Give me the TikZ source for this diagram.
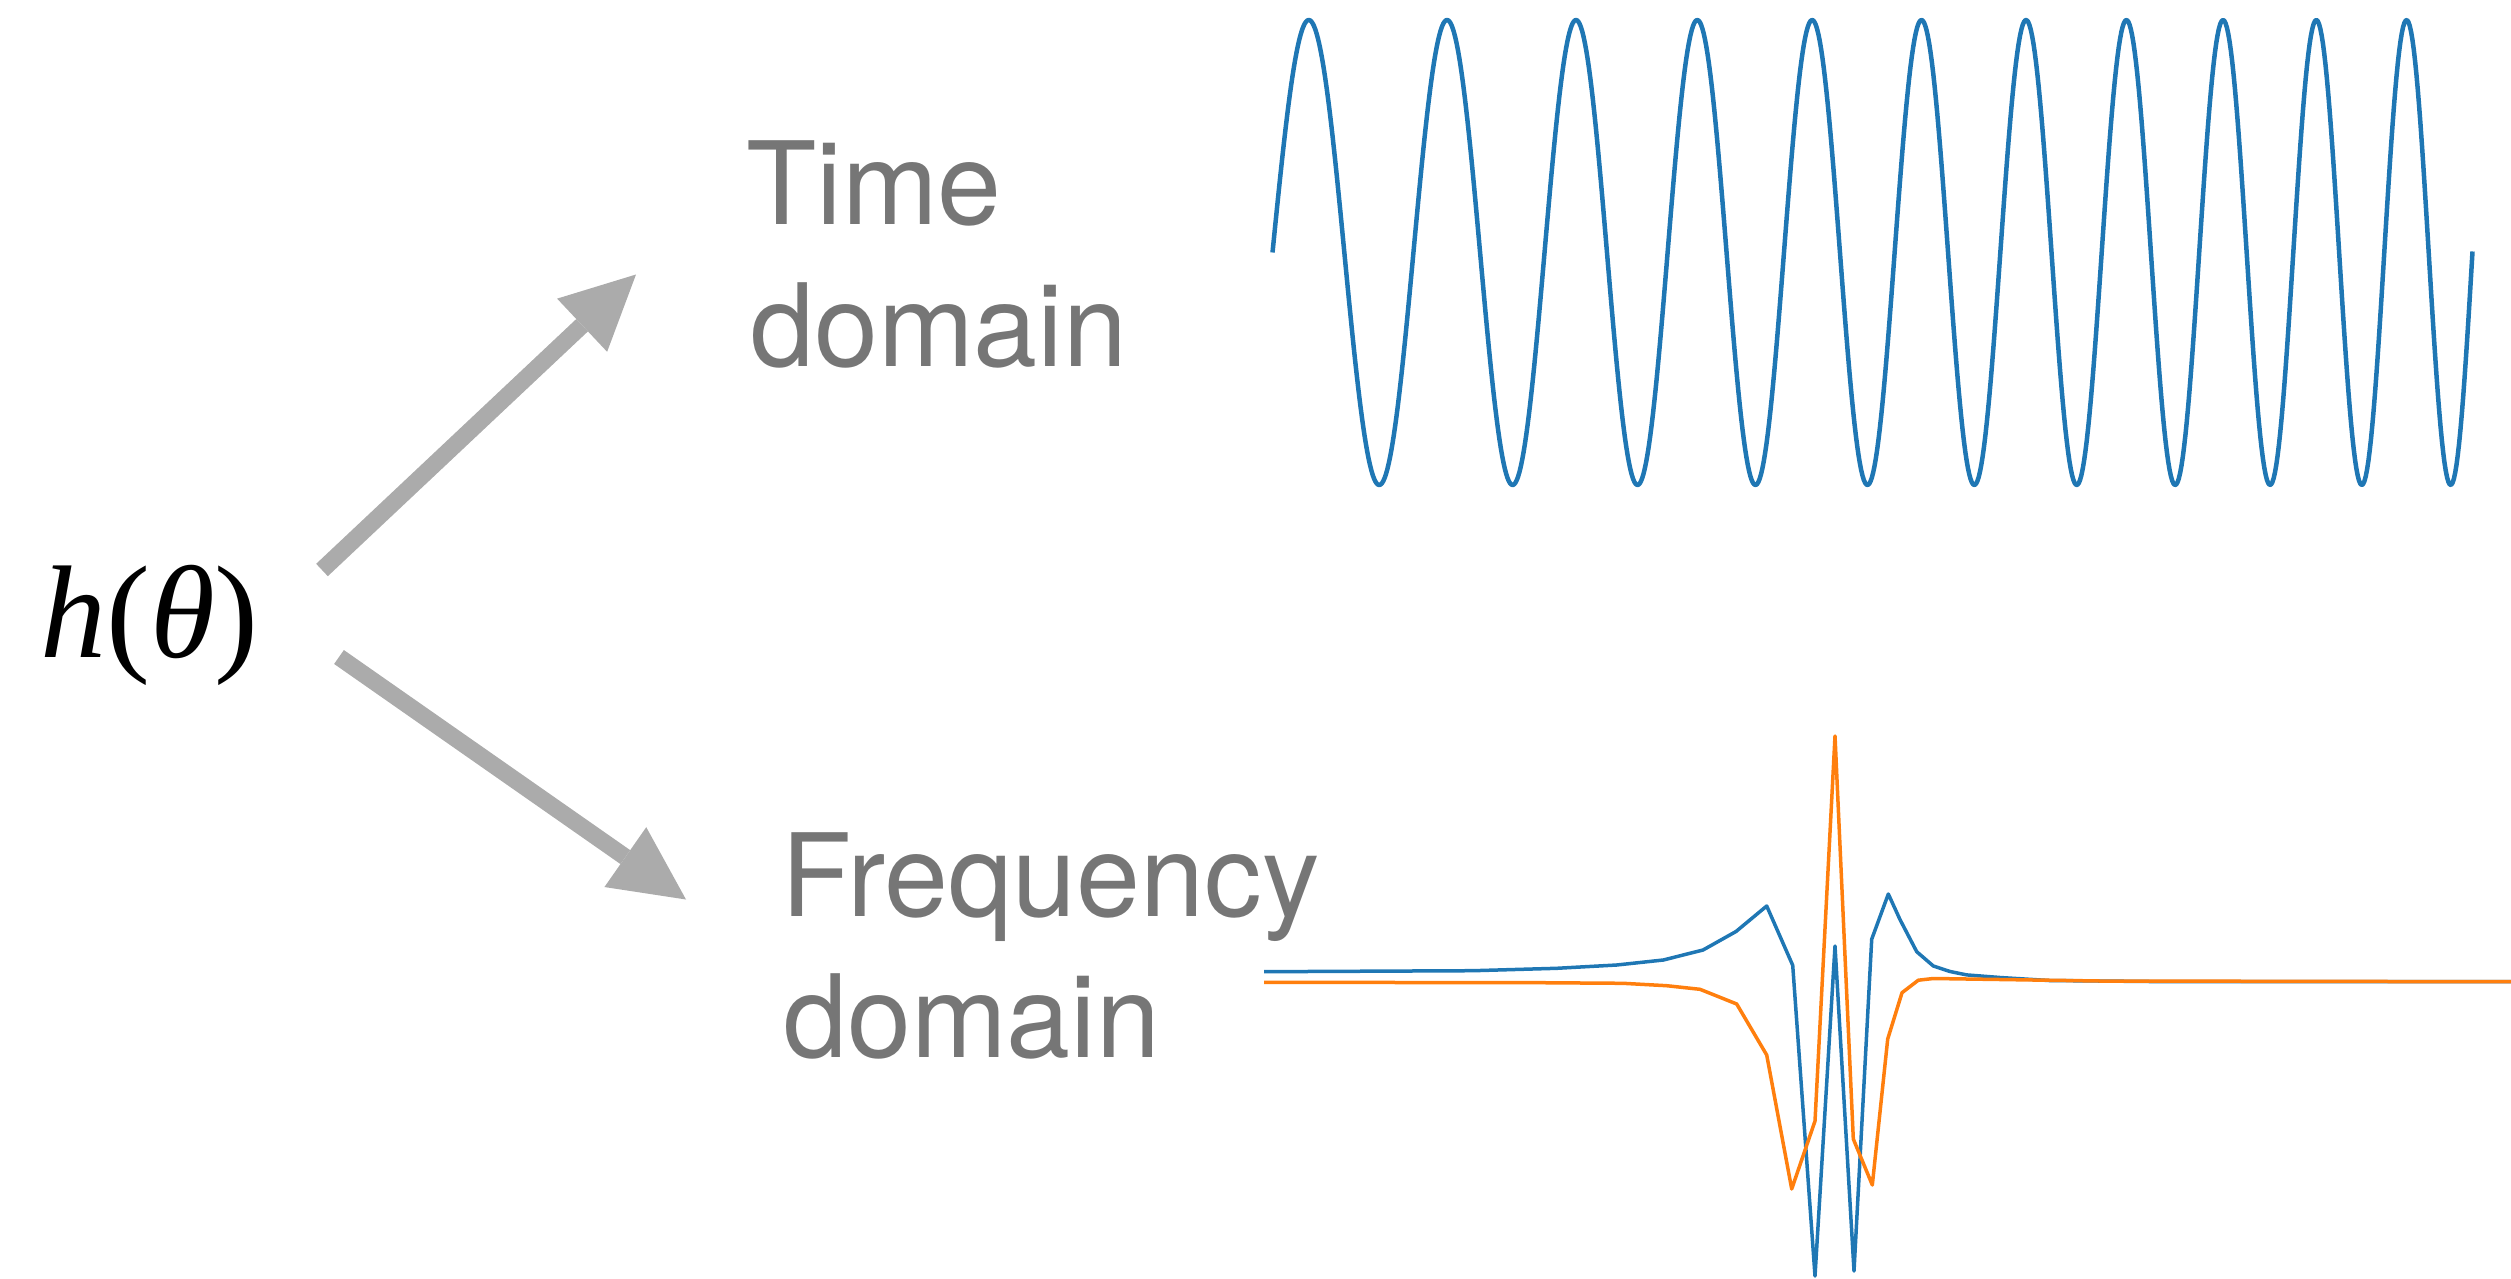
\documentclass[tikz,border=0pt]{standalone}
\usepackage{fontspec}
\setmainfont{Liberation Serif}
\newfontfamily\labelfont{TeX Gyre Heros}
\usetikzlibrary{arrows.meta}
\definecolor{mplblue}{HTML}{1F77B4}
\definecolor{mplorange}{HTML}{FF7F0E}
\definecolor{labgrey}{HTML}{767676}
\definecolor{arrgrey}{HTML}{ABABAB}
\tikzset{
  domlab/.style={anchor=base west, inner sep=0pt, text=labgrey, font=\labelfont\fontsize{115}{138}\selectfont},
  hlab/.style={anchor=base west, inner sep=0pt, font=\fontsize{132}{132}\selectfont},
  bigarrow/.style={draw=arrgrey, line width=17pt, -{Triangle[length=74pt,width=73pt,line width=0pt]}},
  sigblue/.style={draw=mplblue, line width=4.5pt, line join=round},
  fblue/.style={draw=mplblue, line width=3.5pt, line join=round},
  forange/.style={draw=mplorange, line width=3.5pt, line join=round}
}
\begin{document}
\begin{tikzpicture}[x=1pt,y=-1pt]
\useasboundingbox (0,0) rectangle (2511,1279);
% labels
\node[hlab] (h) at (40,657) {\itshape h\upshape(\itshape θ\/\upshape)};
\node[domlab] (tlab) at (746,224.3) {Time};
\node[domlab] (tlab2) at (750,366.7) {domain};
\node[domlab] (flab) at (781,916.7) {Frequency};
\node[domlab] (flab2) at (783,1057.7) {domain};
% arrows
\coordinate (a1s) at (322,570);
\coordinate (a1e) at (636,274.5);
\coordinate (a2s) at (339,657);
\coordinate (a2e) at (686,899.5);
\draw[bigarrow] (a1s) -- (a1e);
\draw[bigarrow] (a2s) -- (a2e);
% time-domain chirp
\draw[sigblue] plot[domain=0:1200, samples=900, variable=\t]
  ({1272.5+\t}, {252.5 - 232.5*sin(2.4553*\t + (0.026529*\t)^2)});
% frequency-domain curves
\draw[fblue] plot coordinates {(1264,971.7) (1473,970.7) (1556.7,968.3) (1616.7,965) (1663.3,960) (1703,950) (1736,931.5) (1766.7,906) (1792.7,965.3) (1815,1276) (1835,946) (1854,1271) (1871.7,939.2) (1888.3,894) (1900,919.6) (1916.7,951.7) (1933.3,966) (1950,971.5) (1966.7,974.9) (2000,977.5) (2049,980.5) (2150,981.5) (2511,981.7)};
\draw[forange] plot coordinates {(1264,982.3) (1540,982.7) (1623,983.3) (1666.7,985.7) (1700,989.3) (1736.7,1004) (1766.7,1055) (1791.7,1189) (1815,1121) (1835,736) (1853.3,1139) (1872.3,1185) (1887.7,1039) (1902,992.7) (1918.3,980.2) (1933.3,978.5) (2000,979.5) (2100,981) (2511,981.7)};
\end{tikzpicture}
\end{document}
